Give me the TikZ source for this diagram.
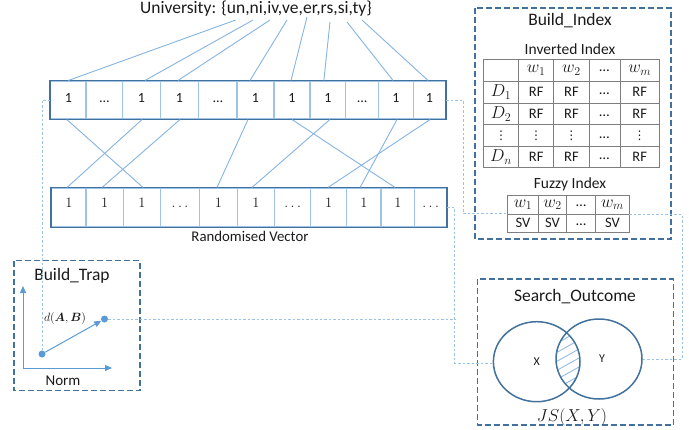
\documentclass[tikz,border=0pt]{standalone}
\usepackage{amsmath,bm}
\usepackage{fontspec}
\setmainfont{Carlito}
\newfontfamily\djv{DejaVu Sans}
\usetikzlibrary{arrows.meta,calc,shapes.geometric}
\definecolor{boxblue}{HTML}{41719C}
\definecolor{cellblue}{HTML}{9DC3E6}
\definecolor{linkblue}{HTML}{84B4E2}
\definecolor{dotblue}{HTML}{5B9BD5}
\definecolor{gridgray}{HTML}{7F7F7F}
\definecolor{txt}{HTML}{1A1A1A}
\begin{document}
\begin{tikzpicture}[x=1pt,y=-1pt,
  every node/.style={text=txt},
  cellbox/.style={draw=cellblue,line width=1.1pt,inner sep=0pt,minimum height=38pt,text height=8pt,text depth=4pt,font=\fontsize{14}{16}\selectfont},
  bcellbox/.style={draw=cellblue,line width=1.1pt,inner sep=0pt,minimum height=39pt,text height=6pt,text depth=6pt,font=\fontsize{14}{16}\selectfont},
  vecframe/.style={draw=boxblue,line width=1.8pt},
  link/.style={draw=linkblue,line width=0.9pt},
  dotlink/.style={draw=cellblue,line width=1pt,dash pattern=on 2.5pt off 2pt},
  groupbox/.style={draw=boxblue,line width=1.5pt,dash pattern=on 6pt off 3pt},
  title/.style={font=\fontsize{17.5}{20}\selectfont},
  subtitle/.style={font=\fontsize{15.5}{18}\selectfont},
  tcell/.style={font=\fontsize{14.5}{16}\selectfont,inner sep=0pt},
  mcell/.style={font=\fontsize{17}{19}\selectfont,inner sep=0pt},
  vcell/.style={font=\djv\fontsize{12}{14}\selectfont,inner sep=0pt},
  grid/.style={draw=gridgray,line width=0.9pt},
  pt/.style={circle,fill=dotblue,inner sep=0pt,minimum size=7pt},
  axis/.style={draw=dotblue,line width=1pt,-{Triangle[length=7pt,width=6pt]}}
]
\useasboundingbox (0,0) rectangle (689,429);

% ---------- title ----------
\node[title] (univ) at (256,9) {University: \{un,ni,iv,ve,er,rs,si,ty\}};
\coordinate (p1) at (235.7,20);
\coordinate (p2) at (253,20);
\coordinate (p3) at (270,20);
\coordinate (p4) at (287,20);
\coordinate (p5) at (307,17);
\coordinate (p6) at (330,22);
\coordinate (p7) at (347,22);
\coordinate (p8) at (362,20);

% ---------- top vector ----------
\foreach \i/\a/\b/\t in {1/50.7/86/1, 2/86/122.7/\dots, 3/122.7/160.3/1, 4/160.3/198.7/1,
  5/198.7/237/\dots, 6/237/274/1, 7/274/310/1, 8/310/345.7/1, 9/345.7/378.7/\dots,
  10/378.7/413.3/1, 11/413.3/445.7/1}{
  \pgfmathsetmacro{\w}{\b-\a}
  \node[cellbox,minimum width=\w pt] (t\i) at ({(\a+\b)/2},100) {\t};
}
\draw[vecframe] (t1.north west) rectangle (t11.south east);

% ---------- bottom vector ----------
\foreach \i/\a/\b/\t in {1/51.7/86/1, 2/86/123.3/1, 3/123.3/160.7/1, 4/160.7/199.3/\ldots,
  5/199.3/237.3/1, 6/237.3/274.7/1, 7/274.7/310.7/\ldots, 8/310.7/346.7/1, 9/346.7/381/1,
  10/381/414.7/1, 11/414.7/446.7/\ldots}{
  \pgfmathsetmacro{\w}{\b-\a}
  \node[bcellbox,minimum width=\w pt] (b\i) at ({(\a+\b)/2},207.5) {$\t$};
}
\draw[vecframe] (b1.north west) rectangle (b11.south east);
\node[font=\fontsize{14.8}{17}\selectfont] (rv) at (250,236) {Randomised Vector};

% ---------- syllable links ----------
\draw[link] (p1) -- ([xshift=0pt]t1.north);
\draw[link] (p2) -- ([xshift=3.5pt]t3.north);
\draw[link] (p3) -- ([xshift=-1.5pt]t4.north);
\draw[link] (p4) -- ([xshift=-5.5pt]t6.north);
\draw[link] (p5) -- ([xshift=-1pt]t7.north);
\draw[link] (p6) -- ([xshift=-4pt]t8.north);
\draw[link] (p7) -- ([xshift=-3pt]t10.north);
\draw[link] (p8) -- ([xshift=-1.5pt]t11.north);

% ---------- permutation links ----------
\draw[link] ([xshift=-1.5pt]t1.south) -- ([xshift=1pt]b3.north);
\draw[link] ([xshift=0.5pt]t3.south) -- ([xshift=-1.8pt]b1.north);
\draw[link] ([xshift=0.5pt]t4.south) -- ([xshift=-2.6pt]b2.north);
\draw[link] ([xshift=-7.5pt]t6.south) -- ([xshift=-1.3pt]b5.north);
\draw[link] ([xshift=0pt]t7.south) -- ([xshift=-2.8pt]b10.north);
\draw[link] ([xshift=2pt]t8.south) -- ([xshift=-4pt]b6.north);
\draw[link] ([xshift=1pt]t10.south) -- ([xshift=-3.8pt]b9.north);
\draw[link] ([xshift=0.5pt]t11.south) -- ([xshift=-0.7pt]b8.north);

% ---------- Build_Index ----------
\draw[groupbox] (475,8) rectangle (671,239);
\node[title] (bi) at (570,21) {Build\_Index};
\node[subtitle] (ii) at (570,49) {Inverted Index};
% inverted index grid
\draw[grid] (483.3,59.3) rectangle (659.3,167.7);
\foreach \x in {518.7,553.7,589,620} \draw[grid] (\x,59.3) -- (\x,167.7);
\foreach \y in {81,103,124.7,146} \draw[grid] (483.3,\y) -- (659.3,\y);
\node[mcell] (h1) at (536.2,70.2) {$w_1$};
\node[mcell] (h2) at (571.4,70.2) {$w_2$};
\node[tcell] (h3) at (604.5,71) {\dots};
\node[mcell] (h4) at (639.7,70.2) {$w_m$};
\foreach \r/\y/\d/\v in {1/92/D_1/RF, 2/113.9/D_2/RF, 4/156.9/D_n/RF}{
  \node[mcell] (d\r) at (501,\y) {$\d$};
  \node[tcell] (r\r a) at (536.2,\y) {\v};
  \node[tcell] (r\r b) at (571.4,\y) {\v};
  \node[tcell] (r\r c) at (604.5,\y+2) {\dots};
  \node[tcell] (r\r d) at (639.7,\y) {\v};
}
\node[vcell] (d3) at (501,135.4) {⋮};
\node[vcell] (r3a) at (536.2,135.4) {⋮};
\node[vcell] (r3b) at (571.4,135.4) {⋮};
\node[tcell] (r3c) at (604.5,137.4) {\dots};
\node[vcell] (r3d) at (639.7,135.4) {⋮};
% fuzzy index
\node[subtitle] (fi) at (570,184) {Fuzzy Index};
\draw[grid] (507.7,195.7) rectangle (629.3,232);
\foreach \x in {538.3,566.7,595.7} \draw[grid] (\x,195.7) -- (\x,232);
\draw[grid] (507.7,214) -- (629.3,214);
\coordinate (fzw) at (507.7,213.5);
\coordinate (fze) at (629.3,214.5);
\node[mcell] (f1) at (523,204.9) {$w_1$};
\node[mcell] (f2) at (552.5,204.9) {$w_2$};
\node[tcell] (f3) at (581.2,206) {\dots};
\node[mcell] (f4) at (612.5,204.9) {$w_m$};
\node[tcell] (s1) at (523,223) {SV};
\node[tcell] (s2) at (552.5,223) {SV};
\node[tcell] (s3) at (581.2,224.5) {\dots};
\node[tcell] (s4) at (612.5,223) {SV};

% ---------- Build_Trap ----------
\draw[groupbox] (14,260.7) rectangle (140,390.7);
\node[title] (bt) at (72,276) {Build\_Trap};
\coordinate (orig) at (23,368);
\coordinate (ytop) at (23,286);
\coordinate (xend) at (112,368);
\draw[axis] (orig) -- (ytop);
\draw[axis] (orig) -- (xend);
\node[font=\fontsize{15}{17}\selectfont] (norm) at (63,381) {Norm};
\node[pt] (dot1) at (42,354) {};
\node[pt] (dot2) at (104.5,319) {};
\draw[axis] (dot1) -- (dot2);
\node[font=\fontsize{13}{15}\selectfont] (dab) at (65,318) {$d(\bm{A},\bm{B})$};

% ---------- Search_Outcome ----------
\draw[groupbox] (477.7,279) rectangle (673.3,425);
\node[title] (so) at (575,297) {Search\_Outcome};
\begin{scope}
  \clip (536.7,361.7) ellipse [x radius=43.3pt, y radius=40pt];
  \clip (599,359) ellipse [x radius=43pt, y radius=40pt];
  \foreach \k in {0,...,14} \draw[cellblue!80!dotblue,line width=0.9pt] (545,296+9*\k) -- (595,268+9*\k);
\end{scope}
\node[ellipse,draw=boxblue,line width=1.5pt,minimum width=86.6pt,minimum height=80pt,inner sep=0pt,font=\fontsize{12}{14}\selectfont] (X) at (536.7,361.7) {X};
\node[ellipse,draw=boxblue,line width=1.5pt,minimum width=86pt,minimum height=80pt,inner sep=0pt,font=\fontsize{12}{14}\selectfont] (Y) at (599,359) {\hspace*{6pt}Y};
\node[font=\fontsize{16.5}{18}\selectfont] (js) at (572,417) {$JS(X,Y)$};

% ---------- dotted connectors ----------
\draw[dotlink] (t1.west) -| (dot1);
\draw[dotlink] (t11.east) -- ++(17,0) |- (fzw);
\draw[dotlink] (b11.east) -- ++(7.5,0) coordinate (jn) |- ([yshift=-1.5pt]X.west);
\draw[dotlink] (dot2) -- (dot2 -| jn);
\draw[dotlink] (fze) -- (682,214.5) |- (Y.east);
\end{tikzpicture}
\end{document}
